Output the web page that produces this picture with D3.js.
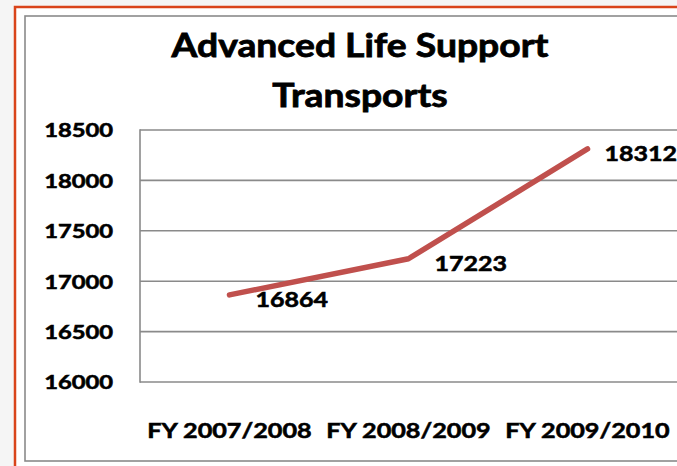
<!DOCTYPE html>
<html><head><meta charset="utf-8">
<script src="https://cdn.jsdelivr.net/npm/d3@7"></script>
<style>html,body{margin:0;padding:0;background:#f5f5f5;overflow:hidden} svg{display:block;}</style>
</head><body>
<svg id="c" width="677" height="466"></svg>
<script>
const titleLines = ["Advanced Life Support", "Transports"];
const categories = ["FY 2007/2008", "FY 2008/2009", "FY 2009/2010"];
const transports = [16864, 17223, 18312];
const yTicks = [16000, 16500, 17000, 17500, 18000, 18500];

const W = 677, H = 466;
const svg = d3.select("#c");
const FONT = "Lato, 'Open Sans', 'DejaVu Sans', sans-serif";
const SX = 1.25;      // horizontal stretch of the picture's text
const XSX = 1.2;
const TSX = 1.13;
const HEAVY = 0.55;   // extra stroke to mimic the heavier bold

svg.append("rect").attr("width", W).attr("height", H).attr("fill", "#f5f5f5");
// outer orange frame
svg.append("rect").attr("x", 15).attr("y", 7).attr("width", 720).attr("height", 520)
  .attr("fill", "#fff").attr("stroke", "#D9441A").attr("stroke-width", 2.5);
// chart area border
svg.append("rect").attr("x", 25).attr("y", 16).attr("width", 720).attr("height", 445)
  .attr("fill", "#fff").attr("stroke", "#8a8a8a").attr("stroke-width", 1.6);

const plot = {left: 140, top: 130, bottom: 382, width: 537};
const x = d3.scaleBand().domain(categories).range([plot.left, plot.left + plot.width]);
const y = d3.scaleLinear().domain(d3.extent(yTicks)).range([plot.bottom, plot.top]);

// gridlines
svg.append("g").selectAll("line").data(yTicks).join("line")
  .attr("x1", plot.left).attr("x2", W + 20)
  .attr("y1", d => y(d)).attr("y2", d => y(d))
  .attr("stroke", "#8a8a8a").attr("stroke-width", 1.6);
// plot left border
svg.append("line").attr("x1", plot.left).attr("x2", plot.left)
  .attr("y1", plot.top - 0.8).attr("y2", plot.bottom + 0.8)
  .attr("stroke", "#8a8a8a").attr("stroke-width", 1.6);

function heavy(sel) {
  sel.attr("fill", "#000").attr("stroke", "#000").attr("stroke-width", HEAVY)
     .attr("font-family", FONT).attr("font-weight", "bold");
}

// y axis
const gy = svg.append("g").attr("transform", `translate(${plot.left},0)`)
  .call(d3.axisLeft(y).tickValues(yTicks).tickSize(0).tickPadding(27).tickFormat(d3.format("d")));
gy.select(".domain").remove();
gy.selectAll("text").call(heavy).attr("font-size", 19)
  .attr("x", -27 / SX).attr("dy", "0.36em").attr("transform", `scale(${SX},1)`);

// x axis
const gx = svg.append("g").attr("transform", `translate(0,${plot.bottom})`)
  .call(d3.axisBottom(x).tickSize(0));
gx.select(".domain").remove();
gx.selectAll("text").call(heavy).attr("font-size", 21)
  .attr("y", 56).attr("dy", 0).attr("transform", `scale(${XSX},1)`);

// line
const pts = categories.map((c, i) => [x(c) + x.bandwidth() / 2, y(transports[i])]);
svg.append("path").datum(pts)
  .attr("d", d3.line())
  .attr("fill", "none").attr("stroke", "#C0504D").attr("stroke-width", 5.5)
  .attr("stroke-linecap", "round").attr("stroke-linejoin", "round");

// data labels
svg.append("g").selectAll("text").data(transports).join("text")
  .attr("transform", (d, i) => {
    const dx = i === transports.length - 1 ? 17 : 26;
    return `translate(${pts[i][0] + dx},${pts[i][1]}) scale(${SX},1)`;
  })
  .attr("dy", "0.6em")
  .call(heavy).attr("font-size", 20)
  .text(d => d);

// title
svg.append("g").selectAll("text").data(titleLines).join("text")
  .attr("transform", (d, i) => `translate(360,${57 + i * 50}) scale(${TSX},1)`)
  .attr("text-anchor", "middle")
  .call(heavy).attr("font-size", 33).attr("stroke-width", 0.8)
  .text(d => d);
</script>
</body></html>
